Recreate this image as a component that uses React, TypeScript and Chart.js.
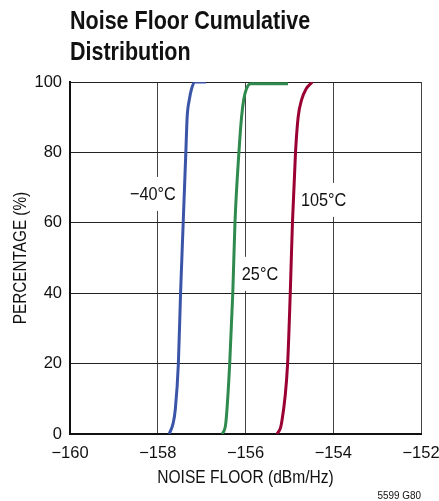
import React, { useEffect, useRef } from "react";
import { Chart, registerables } from "chart.js";

Chart.register(...registerables);

const xTicks = [-160, -158, -156, -154, -152];
const yTicks = [0, 20, 40, 60, 80, 100];

const coldX = [-157.74, -157.65, -157.6, -157.53, -157.48, -157.42, -157.36, -157.33, -157.28, -157.23, -157.15, -156.9];
const coldY = [0, 3, 7, 20, 40, 60, 80, 90, 95, 98, 100, 100];

const roomX = [-156.53, -156.45, -156.36, -156.29, -156.24, -156.15, -156.09, -156.04, -155.98, -155.88, -155.03];
const roomY = [0, 3, 20, 40, 60, 80, 90, 95, 98, 99.5, 99.5];

const hotX = [-155.28, -155.18, -155.04, -154.98, -154.93, -154.86, -154.8, -154.72, -154.62, -154.48];
const hotY = [0, 3, 20, 40, 60, 80, 90, 95, 98, 100];

const seriesLabels = ["−40°C", "25°C", "105°C"];
const labelX = [-158.11, -155.67, -154.22];
const labelY = [68.2, 45.5, 66.5];
const titleLines = ["Noise Floor Cumulative", "Distribution"];
const xTitle = "NOISE FLOOR (dBm/Hz)";
const yTitle = "PERCENTAGE (%)";
const figId = "5599 G80";

const FONT = "'Liberation Sans', Arial, sans-serif";

const pts = (xs: number[], ys: number[]) => xs.map((x, i) => ({ x, y: ys[i] }));
const fmt = (v: number) => (v < 0 ? "−" + Math.abs(v) : String(v));

function narrowText(ctx: CanvasRenderingContext2D, text: string, x: number, y: number, sx: number) {
  ctx.save();
  ctx.translate(x, y);
  ctx.scale(sx, 1);
  ctx.fillText(text, 0, 0);
  ctx.restore();
}

export default function App() {
  const ref = useRef<HTMLCanvasElement | null>(null);

  useEffect(() => {
    if (!ref.current) return;

    const textPlugin = {
      id: "texts",
      beforeDatasetsDraw(chart: any) {
        const { ctx, scales } = chart;
        const xs = scales.x;
        const ys = scales.y;
        ctx.save();
        ctx.font = `18.5px ${FONT}`;
        ctx.textAlign = "center";
        ctx.textBaseline = "middle";
        const sx = 0.88;
        seriesLabels.forEach((t, i) => {
          const px = xs.getPixelForValue(labelX[i]);
          const py = ys.getPixelForValue(labelY[i]);
          const w = ctx.measureText(t).width * sx;
          ctx.fillStyle = "#fff";
          ctx.fillRect(px - w / 2 - 3, py - 17, w + 6, 34);
          ctx.fillStyle = "#111";
          narrowText(ctx, t, px, py + 1, sx);
        });
        ctx.restore();
      },
      afterDraw(chart: any) {
        const { ctx, chartArea } = chart;
        ctx.save();
        ctx.fillStyle = "#111";
        ctx.textBaseline = "alphabetic";
        ctx.textAlign = "left";
        ctx.font = `bold 25px ${FONT}`;
        narrowText(ctx, titleLines[0], 70, 29, 0.86);
        narrowText(ctx, titleLines[1], 70, 60, 0.86);

        ctx.font = `18px ${FONT}`;
        ctx.textAlign = "center";
        ctx.textBaseline = "middle";
        narrowText(ctx, xTitle, (chartArea.left + chartArea.right) / 2, 478, 0.865);
        ctx.save();
        ctx.translate(21.5, (chartArea.top + chartArea.bottom) / 2);
        ctx.rotate(-Math.PI / 2);
        narrowText(ctx, yTitle, 0, 0, 0.85);
        ctx.restore();

        ctx.font = `11px ${FONT}`;
        ctx.textAlign = "right";
        ctx.textBaseline = "alphabetic";
        narrowText(ctx, figId, 421, 499, 0.9);
        ctx.restore();
      },
    };

    const chart = new Chart(ref.current, {
      type: "line",
      data: {
        datasets: [
          { label: seriesLabels[0], data: pts(coldX, coldY), borderColor: "#3a55a8", borderWidth: 3, pointRadius: 0, cubicInterpolationMode: "monotone" },
          { label: seriesLabels[1], data: pts(roomX, roomY), borderColor: "#2f8a4e", borderWidth: 3, pointRadius: 0, cubicInterpolationMode: "monotone" },
          { label: seriesLabels[2], data: pts(hotX, hotY), borderColor: "#9a0032", borderWidth: 3, pointRadius: 0, cubicInterpolationMode: "monotone" },
        ],
      },
      options: {
        responsive: false,
        animation: false,
        layout: { padding: { left: 0, top: 82, right: 18, bottom: 0 } },
        plugins: { legend: { display: false }, tooltip: { enabled: false }, title: { display: false } },
        scales: {
          x: {
            type: "linear",
            min: -160,
            max: -152,
            afterBuildTicks: (s: any) => { s.ticks = xTicks.map((v) => ({ value: v })); },
            afterFit: (s: any) => { s.height = 67; s.paddingLeft = 0; s.paddingRight = 0; },
            grid: { color: "#444", lineWidth: 1, drawTicks: false },
            border: { color: "#111", width: 2 },
            ticks: { color: "#111", padding: 10, font: { family: FONT, size: 16.5 }, callback: (v: any) => fmt(Number(v)), maxRotation: 0 },
          },
          y: {
            type: "linear",
            min: 0,
            max: 100,
            afterBuildTicks: (s: any) => { s.ticks = yTicks.map((v) => ({ value: v })); },
            afterFit: (s: any) => { s.width = 70; s.paddingTop = 0; s.paddingBottom = 0; },
            grid: { color: "#222", lineWidth: 1, drawTicks: false },
            border: { color: "#111", width: 2 },
            ticks: { color: "#111", padding: 8, font: { family: FONT, size: 16.5 }, callback: (v: any) => fmt(Number(v)) },
          },
        },
      },
      plugins: [textPlugin],
    } as any);

    return () => chart.destroy();
  }, []);

  return (
    <div style={{ position: "absolute", left: 0, top: 0, width: 439, height: 501, background: "#fff" }}>
      <canvas ref={ref} width={439} height={501} style={{ display: "block" }} />
    </div>
  );
}
